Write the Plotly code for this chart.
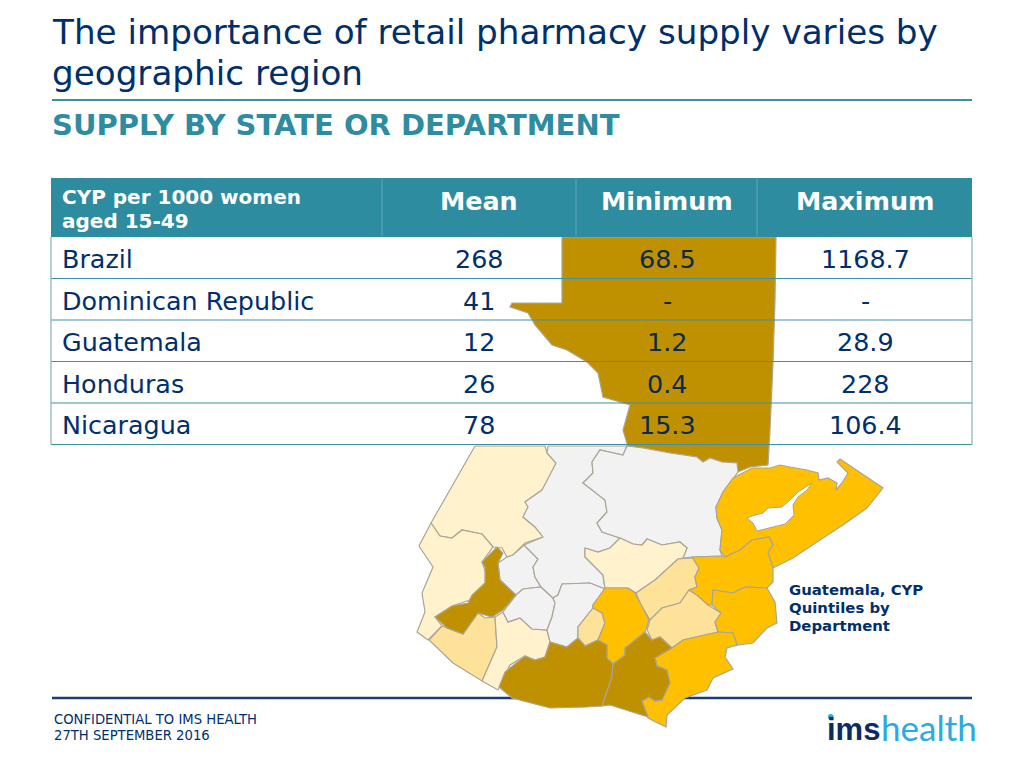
import plotly.graph_objects as go

# table contents
HEADER_LABEL = ["CYP per 1000 women", "aged 15-49"]
COLUMNS = ["Mean", "Minimum", "Maximum"]
COUNTRIES = ["Brazil", "Dominican Republic", "Guatemala", "Honduras", "Nicaragua"]
MEAN = ["268", "41", "12", "26", "78"]
MINIMUM = ["68.5", "-", "1.2", "0.4", "15.3"]
MAXIMUM = ["1168.7", "-", "28.9", "228", "106.4"]

# department outlines
PETEN = [(562,237),(776,237),(775,300),(773,363),(770,430),(768,465),(750,467),(738,472),(737,463),(722,462),(710,458),(703,462),(697,457),(670,453),(643,448),(628,447),(623,430),(630,405),(603,397),(598,373),(587,362),(567,350),(552,345),(535,325),(528,313),(510,307),(512,303),(562,303)]
HUEHUETENANGO = [(475,446),(545,446),(547,453),(556,463),(552,475),(542,490),(525,502),(528,507),(523,517),(535,527),(543,537),(525,543),(513,555),(507,557),(502,548),(493,547),(482,534),(462,530),(452,538),(440,536),(431,523)]
SAN_MARCOS = [(431,523),(440,536),(452,538),(462,530),(482,534),(493,547),(482,562),(486,573),(485,587),(470,600),(452,606),(435,617),(442,626),(428,640),(417,632),(425,612),(422,593),(433,567),(419,546)]
QUETZALTENANGO = [(497,547),(503,553),(498,563),(500,580),(516,595),(503,610),(492,617),(478,613),(473,620),(463,634),(447,628),(435,617),(452,606),(468,603),(472,595),(485,583),(485,567),(482,562)]
RETALHULEU = [(442,626),(447,628),(463,634),(473,620),(478,613),(485,618),(495,617),(497,647),(482,681),(453,663),(429,640)]
SUCHITEPEQUEZ = [(495,617),(503,612),(508,622),(520,618),(532,629),(547,630),(550,642),(545,657),(535,660),(525,656),(510,665),(498,690),(482,681),(497,647)]
TOTONICAPAN = [(524,545),(538,559),(533,567),(535,577),(541,587),(523,589),(516,595),(500,580),(498,563),(507,557),(513,555)]
SOLOLA = [(523,589),(541,587),(553,598),(555,603),(552,617),(547,630),(532,629),(520,618),(508,622),(503,612),(516,595)]
QUICHE = [(548,446),(627,446),(623,455),(600,450),(592,462),(593,473),(583,483),(605,500),(607,512),(597,523),(602,532),(620,538),(610,548),(598,552),(585,548),(585,557),(603,575),(605,589),(590,583),(562,584),(558,595),(553,598),(541,587),(535,577),(533,567),(538,559),(524,545),(543,537),(535,527),(523,517),(528,507),(525,502),(542,490),(556,463),(547,453)]
CHIMALTENANGO = [(562,584),(590,583),(605,589),(593,605),(593,608),(578,627),(578,638),(567,647),(550,642),(547,630),(552,617),(555,603),(553,598),(558,595)]
SACATEPEQUEZ = [(593,608),(602,613),(605,623),(598,640),(585,646),(578,638),(578,627)]
ESCUINTLA = [(550,642),(567,647),(578,638),(585,646),(598,640),(607,645),(607,658),(613,664),(612,677),(602,706),(587,707),(550,708),(512,698),(499,687),(505,672),(525,656),(535,660),(545,657)]
GUATEMALA = [(605,588),(628,588),(635,593),(640,603),(649,620),(645,632),(625,648),(625,655),(613,664),(607,658),(607,645),(598,640),(605,623),(602,613),(593,608),(593,605)]
SANTA_ROSA = [(645,632),(652,640),(660,637),(672,648),(655,658),(657,666),(667,670),(670,683),(662,700),(655,701),(649,697),(642,701),(648,717),(610,705),(602,706),(612,677),(613,664),(625,655),(625,648)]
JUTIAPA = [(672,648),(683,640),(718,632),(733,633),(737,645),(727,648),(725,657),(733,669),(713,678),(707,690),(685,698),(667,715),(666,727),(648,718),(642,701),(649,697),(655,701),(662,700),(670,683),(667,670),(657,666),(655,658)]
JALAPA = [(647,630),(650,620),(662,608),(680,603),(689,590),(697,595),(708,605),(721,613),(715,622),(718,632),(683,640),(672,648),(660,637),(652,640)]
EL_PROGRESO = [(636,593),(655,580),(678,559),(693,558),(699,568),(695,577),(697,587),(689,590),(680,603),(662,608),(650,620),(640,603)]
BAJA_VERAPAZ = [(585,548),(598,552),(610,548),(620,538),(633,544),(642,545),(647,539),(662,545),(680,542),(687,548),(683,558),(678,559),(655,580),(636,593),(628,588),(605,588),(603,575),(585,557)]
ALTA_VERAPAZ = [(592,462),(600,450),(623,455),(627,446),(643,448),(670,453),(697,457),(703,462),(710,458),(722,462),(737,463),(738,472),(723,492),(716,507),(717,518),(722,530),(720,550),(722,556),(692,557),(683,558),(687,548),(680,542),(662,545),(647,539),(642,545),(633,544),(620,538),(602,532),(597,523),(607,512),(605,500),(583,483),(593,473)]
IZABAL = [(733,478),(752,468),(770,468),(780,465),(790,467),(807,470),(818,473),(819,480),(828,478),(837,483),(836,490),(842,483),(848,473),(837,462),(840,459),(883,488),(867,508),(843,525),(820,540),(793,558),(773,568),(768,552),(773,545),(769,537),(752,540),(740,550),(725,557),(720,550),(722,530),(717,518),(716,507),(723,492)]
LAKE_IZABAL = [(747,518),(752,516),(763,513),(768,508),(782,507),(790,500),(798,492),(812,483),(807,490),(798,497),(793,505),(794,515),(785,524),(770,528),(757,531),(753,523)]
ZACAPA = [(692,557),(722,556),(725,557),(740,550),(752,540),(769,537),(773,545),(768,552),(773,568),(773,582),(767,588),(745,587),(733,593),(713,590),(712,605),(708,605),(697,595),(689,590),(697,587),(695,577),(699,568)]
CHIQUIMULA = [(713,590),(733,593),(745,587),(767,588),(775,602),(777,623),(767,628),(753,643),(737,645),(733,633),(718,632),(715,622),(721,613),(712,605)]

# quintile of each department, 0 = no data drawn in grey
DEPARTMENTS = [
    ("Petén", PETEN, 5), ("Huehuetenango", HUEHUETENANGO, 1), ("San Marcos", SAN_MARCOS, 1),
    ("Retalhuleu", RETALHULEU, 2), ("Suchitepéquez", SUCHITEPEQUEZ, 1), ("Totonicapán", TOTONICAPAN, 0),
    ("Sololá", SOLOLA, 0), ("Quiché", QUICHE, 0), ("Chimaltenango", CHIMALTENANGO, 0),
    ("Sacatepéquez", SACATEPEQUEZ, 2), ("Alta Verapaz", ALTA_VERAPAZ, 0), ("Baja Verapaz", BAJA_VERAPAZ, 1),
    ("El Progreso", EL_PROGRESO, 2), ("Jalapa", JALAPA, 2), ("Izabal", IZABAL, 4), ("Zacapa", ZACAPA, 4),
    ("Chiquimula", CHIQUIMULA, 4), ("Guatemala", GUATEMALA, 4),
    ("Jutiapa", JUTIAPA, 4), ("Escuintla", ESCUINTLA, 5), ("Santa Rosa", SANTA_ROSA, 5),
    ("Quetzaltenango", QUETZALTENANGO, 5),
]
QUINTILE_COLORS = {0: "#F2F2F2", 1: "#FFF2CC", 2: "#FFE29A", 4: "#FFC000", 5: "#BF9000"}

NAVY = "#002F6C"
TEAL = "#2E8CA0"
RULE = "#3F8FA3"
FONT = "DejaVu Sans"

fig = go.Figure()

for name, outline, quintile in DEPARTMENTS:
    xs, ys = zip(*outline)
    fig.add_trace(go.Scatter(
        x=list(xs) + [xs[0]], y=list(ys) + [ys[0]], mode="lines", fill="toself", name=name,
        fillcolor=QUINTILE_COLORS[quintile], line=dict(color="#ABA596", width=1.2),
        hoverinfo="name", showlegend=False))

xs, ys = zip(*LAKE_IZABAL)
fig.add_trace(go.Scatter(
    x=list(xs) + [xs[0]], y=list(ys) + [ys[0]], mode="lines", fill="toself", name="Lago de Izabal",
    fillcolor="white", line=dict(color="#ABA596", width=1), hoverinfo="skip", showlegend=False))


def note(x, y, text, size, color=NAVY, anchor="left", family=FONT):
    fig.add_annotation(x=x, y=y, text=text, showarrow=False, xanchor=anchor, yanchor="middle",
                       xref="x", yref="y", align=anchor, borderpad=0,
                       font=dict(family=family, size=size, color=color))


def rule(x0, y0, x1, y1, color, width, layer="above"):
    fig.add_shape(type="line", x0=x0, y0=y0, x1=x1, y1=y1, layer=layer, xref="x", yref="y",
                  line=dict(color=color, width=width))


# title block
note(51, 32, "The importance of retail pharmacy supply varies by", 34.2)
note(51, 73, "geographic region", 34.2)
rule(52, 100, 972, 100, RULE, 2)
note(51, 125, "<b>SUPPLY BY STATE OR DEPARTMENT</b>", 29, TEAL)

# table header
fig.add_shape(type="rect", x0=51, y0=178, x1=972, y1=237, layer="above", xref="x", yref="y",
              fillcolor=TEAL, line=dict(width=0))
for x in [382, 576, 757]:
    rule(x, 179, x, 236, "#5FA8B8", 1)
note(61, 197, f"<b>{HEADER_LABEL[0]}</b>", 20, "white")
note(61, 221, f"<b>{HEADER_LABEL[1]}</b>", 20, "white")
COL_X = [479, 667, 865]
for x, label in zip(COL_X, COLUMNS):
    note(x, 201, f"<b>{label}</b>", 25.4, "white", "center")

# table rows
ROW_TOP = 237
ROW_H = 41.5
for i, country in enumerate(COUNTRIES):
    yc = ROW_TOP + ROW_H * (i + 0.5) + 1.5
    note(61, yc, country, 25.4)
    note(COL_X[0], yc, MEAN[i], 25.4, anchor="center")
    note(COL_X[1], yc, MINIMUM[i], 25.4, "#0C2A50", anchor="center")
    note(COL_X[2], yc, MAXIMUM[i], 25.4, anchor="center")
    rule(51, ROW_TOP + ROW_H * (i + 1), 972, ROW_TOP + ROW_H * (i + 1), RULE, 1.2)
rule(51, 237, 51, 444.5, "#7FB5C4", 1.2)
rule(972, 237, 972, 444.5, "#7FB5C4", 1.2)

# map caption
note(788, 590, "<b>Guatemala, CYP</b>", 14.9)
note(788, 608, "<b>Quintiles by</b>", 14.9)
note(788, 626, "<b>Department</b>", 14.9)

# footer
rule(52, 698, 972, 698, "#1F3D73", 2.5, "below")
note(53, 719, "CONFIDENTIAL TO IMS HEALTH", 13.2)
note(53, 735, "27TH SEPTEMBER 2016", 13.2)
note(826, 729, "<b>ims</b>", 31, "#0B2A66", family="Liberation Sans")
note(880, 727, "health", 35, "#29ABE2", family="Lato")
fig.add_shape(type="circle", x0=828, y0=714, x1=833.5, y1=719.5, layer="above", xref="x", yref="y",
              fillcolor="#29ABE2", line=dict(width=0))

fig.update_xaxes(range=[0, 1024], visible=False, fixedrange=True)
fig.update_yaxes(range=[768, 0], visible=False, fixedrange=True)
fig.update_layout(width=1024, height=768, autosize=False, margin=dict(l=0, r=0, t=0, b=0),
                  plot_bgcolor="white", paper_bgcolor="white", showlegend=False)

fig.write_html("out.html", config={"displayModeBar": False},
               post_script="document.body.style.margin='0';document.body.style.overflow='hidden';")
